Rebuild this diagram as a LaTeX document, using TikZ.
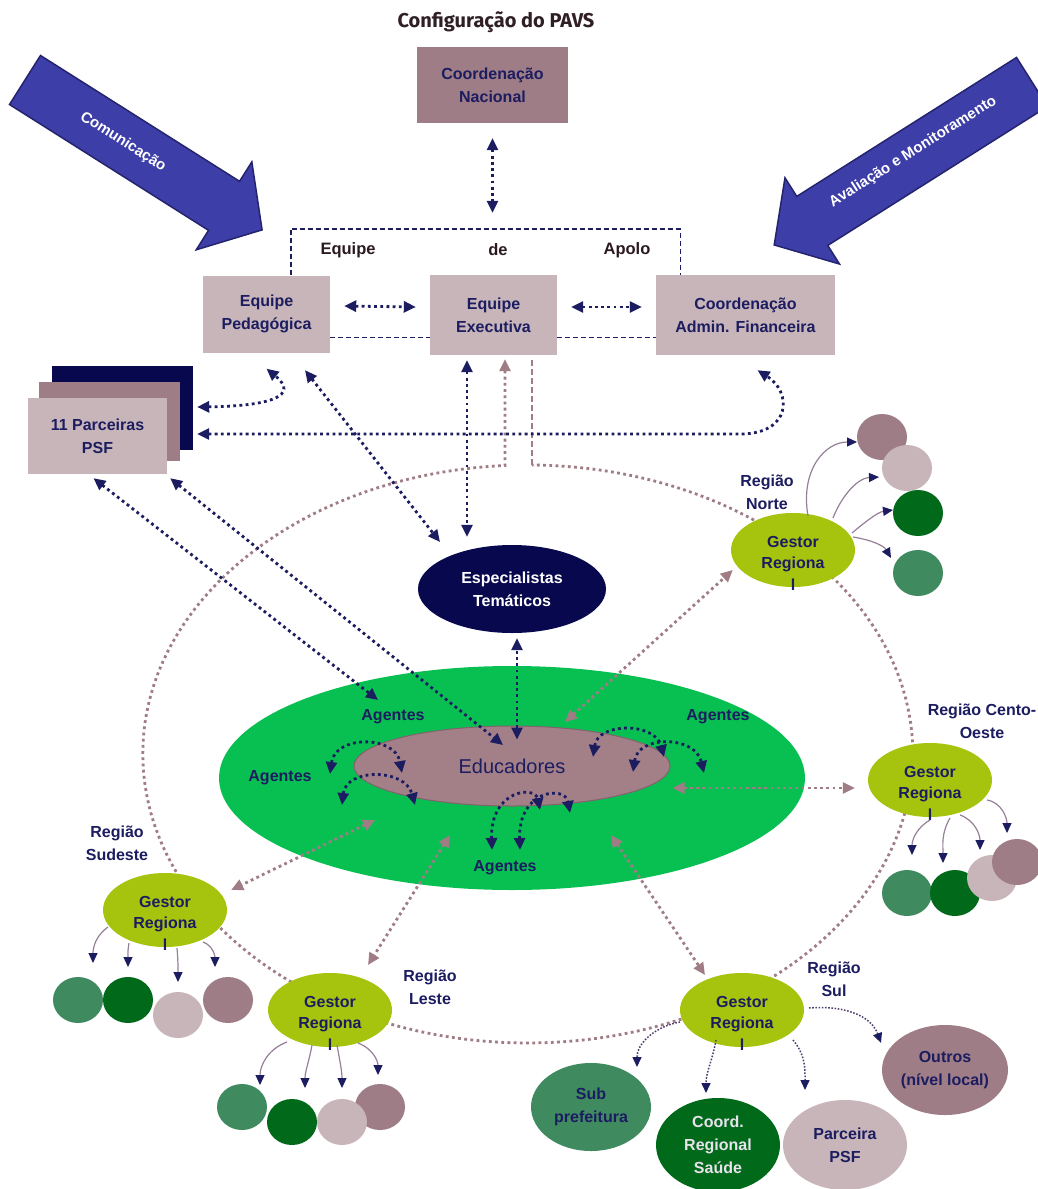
\documentclass[tikz,border=0pt]{standalone}
\usepackage{fontspec}
\setmainfont{Liberation Sans}
\newfontfamily\titlefont{Fira Sans}
\newfontfamily\labfont{Liberation Sans}
\usetikzlibrary{arrows.meta,shapes.geometric}
\definecolor{navy}{RGB}{28,28,96}
\definecolor{navyd}{RGB}{8,8,78}
\definecolor{mauve}{RGB}{158,125,134}
\definecolor{mauvel}{RGB}{200,181,185}
\definecolor{brn}{RGB}{160,124,132}
\definecolor{greenb}{RGB}{8,192,82}
\definecolor{educ}{RGB}{163,128,136}
\definecolor{educd}{RGB}{130,98,108}
\definecolor{gest}{RGB}{166,196,14}
\definecolor{gmed}{RGB}{64,138,96}
\definecolor{gdark}{RGB}{0,106,26}
\definecolor{barrow}{RGB}{62,62,168}
\definecolor{barrowd}{RGB}{36,36,110}
\definecolor{titlec}{RGB}{48,32,38}
\definecolor{kidc}{RGB}{150,128,152}
\definecolor{labc}{RGB}{42,26,32}
\definecolor{sulc}{RGB}{80,62,110}
\tikzset{
  txt/.style={font=\labfont\bfseries\fontsize{16}{23}\selectfont, text=navy, align=center, inner sep=0pt},
  boxd/.style={rectangle, fill=mauve, txt},
  boxl/.style={rectangle, fill=mauvel, txt},
  gestor/.style={ellipse, fill=gest, minimum width=124pt, minimum height=74pt, inner sep=0pt},
  gtext/.style={txt, font=\labfont\bfseries\fontsize{16}{21.5}\selectfont},
  blob/.style={ellipse, minimum width=50pt, minimum height=46pt, inner sep=0pt, fill=#1},
  navyline/.style={draw=navy, line width=2.8pt, dash pattern=on 2.8pt off 3.4pt, >={Triangle[length=12pt,width=11pt]}},
  brnline/.style={draw=brn, line width=2.8pt, dash pattern=on 2.8pt off 3.4pt, >={Triangle[length=12pt,width=11pt]}},
  kid/.style={draw=kidc, line width=1.2pt, >={Triangle[length=10pt,width=9pt,color=navy]}, ->},
  sulkid/.style={draw=sulc, line width=1.5pt, dash pattern=on 1.6pt off 1.6pt, >={Triangle[length=10pt,width=9pt,color=navy]}, ->},
  frameline/.style={draw=navy, line width=1.4pt, dash pattern=on 5pt off 3pt},
  bigarrow/.style={fill=barrow, draw=barrowd, line width=1.5pt, line join=miter},
  arrowtxt/.style={font=\labfont\bfseries\fontsize{15}{18}\selectfont, text=white, inner sep=0pt},
  grp/.style={font=\labfont\bfseries\fontsize{16.5}{20}\selectfont, text=labc, inner sep=0pt}
}
\begin{document}
\begin{tikzpicture}[x=1pt,y=-1pt]
\useasboundingbox[fill=white] (0,0) rectangle (1038,1189);

% big arrows
\begin{scope}[shift={(25,80)}, rotate=-32.3]
  \path[bigarrow] (0,-29) -- (235.5,-29) -- (235.5,-52) -- (280.5,0) -- (235.5,52) -- (235.5,29) -- (0,29) -- cycle;
\end{scope}
\node[arrowtxt, rotate=-32.3] (comtxt) at (123,142) {Comunicação};
\begin{scope}[shift={(1032,82)}, rotate=212.3]
  \path[bigarrow] (0,-29) -- (260,-29) -- (260,-51) -- (305,0) -- (260,51) -- (260,29) -- (0,29) -- cycle;
\end{scope}
\node[arrowtxt, rotate=32.3] (avtxt) at (913,152) {Avaliação e Monitoramento};

% title and top boxes
\node[font=\titlefont\bfseries\fontsize{20}{24}\selectfont, text=titlec, inner sep=0pt] (title) at (496,22) {Configuração do PAVS};
\node[boxd, minimum width=151pt, minimum height=76pt] (cn) at (492.5,85) {Coordenação\\Nacional};

\node[minimum width=389pt, minimum height=108pt, inner sep=0pt] (frame) at (485.5,283) {};
\node[boxl, minimum width=127pt, minimum height=77pt] (ep) at (266.5,314) {Equipe\\Pedagógica};
\node[boxl, minimum width=127pt, minimum height=80pt] (ee) at (493.5,315) {Equipe\\Executiva};
\node[boxl, minimum width=179pt, minimum height=80pt] (ca) at (745.5,315) {Coordenação\\Admin. Financeira};
\draw[frameline] (ep.north -| frame.west) -- (frame.north west) -- (frame.north east) -- (ca.north -| frame.east);
\draw[frameline] (ep.east |- frame.south) -- (ee.west |- frame.south);
\draw[frameline] (ee.east |- frame.south) -- (ca.west |- frame.south);
\node[grp] (g1) at (348,250) {Equipe};
\node[grp] (g2) at (498,250) {de};
\node[grp] (g3) at (627,250) {Apolo};

% 11 parceiras
\node[rectangle, fill=navyd, minimum width=141pt, minimum height=84pt, inner sep=0pt] (pb) at (122.5,408) {};
\node[rectangle, fill=mauve, minimum width=141pt, minimum height=79pt, inner sep=0pt] (pm) at (109.5,421.5) {};
\node[boxl, minimum width=139pt, minimum height=76pt] (pf) at (97.5,436) {11 Parceiras\\PSF};

% central ellipses
\node[ellipse, fill=greenb, minimum width=586pt, minimum height=224pt, inner sep=0pt] (green) at (512,778) {};
\node[ellipse, fill=educ, draw=educd, line width=1pt, minimum width=316pt, minimum height=80pt, inner sep=0pt, txt, font=\labfont\fontsize{20}{24}\selectfont] (ed) at (512,766) {Educadores};
\node[ellipse, fill=navyd, minimum width=188pt, minimum height=88pt, inner sep=0pt, txt, text=white] (esp) at (512,589) {Especialistas\\Temáticos};

\node[txt] (agUL) at (393,717) {Agentes};
\node[txt] (agUR) at (718,717) {Agentes};
\node[txt] (agL) at (280,778) {Agentes};
\node[txt] (agB) at (505,868) {Agentes};

% brown orbit
\draw[brnline, <-] ([shift={(11.5,4)}]ee.south) -- (505,465.5) arc[start angle=266.6, end angle=-89.4, x radius=385, y radius=289];
\draw[draw=brn, line width=2.8pt, dash pattern=on 6pt off 3pt] (532,465) -- ([shift={(38.5,2)}]ee.south);

% gestors
\node[gestor] (gN) at (793,550) {};
\node[gestor] (gC) at (930,780) {};
\node[gestor] (gSE) at (165,910) {};
\node[gestor] (gL) at (330,1010) {};
\node[gestor] (gS) at (742,1010) {};
\node[gtext] (tN) at ([shift={(0,13)}]gN.center) {Gestor\\Regiona\\l};
\node[gtext] (tC) at ([shift={(0,13)}]gC.center) {Gestor\\Regiona\\l};
\node[gtext] (tSE) at ([shift={(0,13)}]gSE.center) {Gestor\\Regiona\\l};
\node[gtext] (tL) at ([shift={(0,13)}]gL.center) {Gestor\\Regiona\\l};
\node[gtext] (tS) at ([shift={(0,13)}]gS.center) {Gestor\\Regiona\\l};

\node[txt] (rN) at (767,492) {Região\\Norte};
\node[txt] (rC) at (982,721) {Região Cento-\\Oeste};
\node[txt] (rSE) at (117,843) {Região\\Sudeste};
\node[txt] (rL) at (430,987) {Região\\Leste};
\node[txt] (rS) at (834,979) {Região\\Sul};

% circles
\node[blob=mauve] (n1) at (882,437) {};
\node[blob=mauvel] (n2) at (907,468) {};
\node[blob=gdark] (n3) at (918,513) {};
\node[blob=gmed] (n4) at (918,573) {};

\node[blob=gmed] (c1) at (907,893) {};
\node[blob=gdark] (c2) at (955,893) {};
\node[blob=mauvel] (c3) at (992,878) {};
\node[blob=mauve] (c4) at (1017,862) {};

\node[blob=gmed] (s1) at (78,1000) {};
\node[blob=gdark] (s2) at (128,1000) {};
\node[blob=mauve] (s4) at (228,1000) {};
\node[blob=mauvel] (s3) at (178,1015) {};

\node[blob=gmed] (l1) at (242,1107) {};
\node[blob=mauve] (l4) at (380,1107) {};
\node[blob=gdark] (l2) at (292,1122) {};
\node[blob=mauvel] (l3) at (342,1122) {};

\node[ellipse, fill=gmed, minimum width=120pt, minimum height=88pt, inner sep=0pt, txt] (sub) at (591,1107) {Sub\\prefeitura};
\node[ellipse, fill=gdark, minimum width=124pt, minimum height=94pt, inner sep=0pt, txt, text={rgb,255:red,232;green,226;blue,236}] (crs) at (718,1145) {Coord.\\Regional\\Saúde};
\node[ellipse, fill=mauvel, minimum width=124pt, minimum height=90pt, inner sep=0pt, txt] (pp) at (845,1145) {Parceira\\PSF};
\node[ellipse, fill=mauve, minimum width=126pt, minimum height=90pt, inner sep=0pt, txt] (ou) at (945,1070) {Outros\\(nível local)};

% navy connectors at top
\draw[navyline, <->] ([shift={(0,15)}]cn.south) -- ([shift={(0,-16)}]cn.south |- frame.north);
\draw[navyline, <->] ([shift={(14,-8)}]ep.east) -- ([shift={(-14,-8)}]ee.west);
\draw[navyline, <->] ([shift={(14,-8)}]ee.east) -- ([shift={(-14,-8)}]ca.west);
\draw[navyline, <->] ([shift={(4,-1)}]pb.east) .. controls (270,406) and (300,396) .. ([shift={(0,16)}]ep.south);
\draw[navyline, <->] ([shift={(4,26)}]pb.east) -- (740,434) .. controls (792,434) and (792,392) .. ([shift={(12,15)}]ca.south);
\draw[navyline, <->] ([shift={(-4,4)}]pf.south) -- ([shift={(-15,-17)}]agUL.center);
\draw[navyline, <->] ([shift={(3,4)}]pf.south east) -- ([shift={(-9,-21)}]ed.center);
\draw[navyline, <->] ([shift={(38.5,17.5)}]ep.south) -- ([shift={(-72,-47)}]esp.center);
\draw[navyline, <->] ([shift={(-26.5,5)}]ee.south) -- ([shift={(-45,-8)}]esp.north);
\draw[navyline, <->] ([shift={(5,14)}]ed.north) -- ([shift={(5,5)}]esp.south);

% agentes arcs
\draw[navyline, <->] (330,774) .. controls (335,735) and (395,735) .. (402,773);
\draw[navyline, <->] (342,805) .. controls (346,768) and (405,768) .. (415,805);
\draw[navyline, <->] (593,757) .. controls (598,722) and (655,722) .. (664,757);
\draw[navyline, <->] (633,772) .. controls (638,735) and (695,735) .. (704,773);
\draw[navyline, <->] (492,850) .. controls (490,790) and (535,785) .. (540,810);
\draw[navyline, <->] (520,850) .. controls (518,790) and (565,785) .. (570,813);

% brown connectors educadores - gestors
\draw[brnline, <->] ([shift={(53,-44)}]ed.center) -- ([shift={(2,20)}]gN.west);
\draw[brnline, <->] ([shift={(2,22)}]ed.east) -- ([shift={(-13,8)}]gC.west);
\draw[brnline, <->] ([shift={(-137,54)}]ed.center) -- ([shift={(4,-20)}]gSE.east);
\draw[brnline, <->] ([shift={(-62,69)}]ed.center) -- ([shift={(38,-45)}]gL.center);
\draw[brnline, <->] ([shift={(99,69)}]ed.center) -- ([shift={(-37,-35)}]gS.center);

% kid arrows
\draw[kid] ([shift={(15,-34)}]gN.center) .. controls (800,470) and (825,442) .. ([shift={(-25,5)}]n1.center);
\draw[kid] ([shift={(40,-32)}]gN.center) .. controls (842,495) and (858,478) .. ([shift={(-28,9)}]n2.center);
\draw[kid] ([shift={(59,-17)}]gN.center) .. controls (865,522) and (878,512) .. ([shift={(-25,-3)}]n3.center);
\draw[kid] ([shift={(60,-13)}]gN.center) .. controls (872,540) and (884,546) .. ([shift={(-27,-15)}]n4.center);

\draw[kid] ([shift={(0,40)}]gC.center) to[out=210,in=90] ([shift={(5,-38)}]c1.center);
\draw[kid] ([shift={(20,38)}]gC.center) to[out=240,in=90] ([shift={(-12,-30)}]c2.center);
\draw[kid] ([shift={(30,35)}]gC.center) to[out=-20,in=90] ([shift={(-12,-28)}]c3.center);
\draw[kid] ([shift={(57,20)}]gC.center) to[out=-10,in=90] ([shift={(-10,-29)}]c4.center);

\draw[kid] ([shift={(-57,17)}]gSE.center) to[out=215,in=90] ([shift={(15,-37)}]s1.center);
\draw[kid] ([shift={(-36,33)}]gSE.center) to[out=260,in=90] ([shift={(0,-33)}]s2.center);
\draw[kid] ([shift={(12,38)}]gSE.center) to[out=-85,in=90] ([shift={(0,-33)}]s3.center);
\draw[kid] ([shift={(38,32)}]gSE.center) to[out=-20,in=90] ([shift={(-13,-33)}]s4.center);

\draw[kid] ([shift={(-43,32)}]gL.center) to[out=200,in=90] ([shift={(18,-22)}]l1.center);
\draw[kid] ([shift={(-18,35)}]gL.center) to[out=260,in=90] ([shift={(13,-34)}]l2.center);
\draw[kid] ([shift={(7,35)}]gL.center) to[out=-80,in=90] ([shift={(0,-34)}]l3.center);
\draw[kid] ([shift={(28,33)}]gL.center) to[out=-20,in=90] ([shift={(-2,-32)}]l4.center);

\draw[sulkid] ([shift={(-62,12)}]gS.center) to[out=190,in=90] ([shift={(46,-40)}]sub.center);
\draw[sulkid] ([shift={(-26,30)}]gS.center) to[out=-100,in=90] ([shift={(-12,-52)}]crs.center);
\draw[sulkid] ([shift={(51,30)}]gS.center) to[out=-50,in=90] ([shift={(-40,-55)}]pp.center);
\draw[sulkid] ([shift={(67,-2)}]gS.center) to[out=5,in=110] ([shift={(-64,-27)}]ou.center);
\end{tikzpicture}
\end{document}
